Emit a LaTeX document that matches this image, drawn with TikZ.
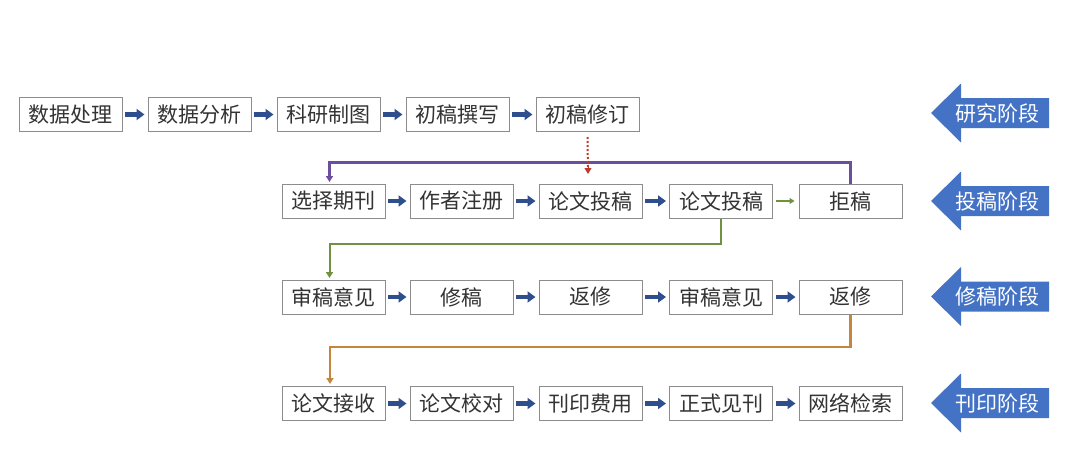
\documentclass[tikz,border=0pt]{standalone}
\usepackage{fontspec}
\newfontfamily\cjk{Noto Sans CJK SC}
\usetikzlibrary{arrows.meta}
\definecolor{boxline}{HTML}{8C8C8C}
\definecolor{txt}{HTML}{333333}
\definecolor{barrow}{HTML}{2F4E8E}
\definecolor{stage}{HTML}{4472C4}
\definecolor{purp}{HTML}{6E4C9E}
\definecolor{grn}{HTML}{6F9140}
\definecolor{orng}{HTML}{C4863C}
\definecolor{redd}{HTML}{C0392B}
\tikzset{
  box/.style={draw=boxline, line width=1pt, fill=white, minimum width=103pt, minimum height=34pt, inner sep=0pt, font=\cjk\fontsize{21}{21}\selectfont, text=txt},
  flowarrow/.style={draw=barrow, line width=4.5pt, -{Triangle[width=11pt,length=8pt]}, shorten <=2.5pt, shorten >=3pt},
  thinarrow/.style={draw=grn, line width=2pt, -{Triangle[width=6pt,length=5pt]}, shorten <=3pt, shorten >=4pt},
  loopline/.style={line width=2.2pt, -{Triangle[width=7pt,length=6pt]}},
  stagebox/.style={fill=stage},
  stagetext/.style={text=white, font=\cjk\fontsize{21}{21}\selectfont, inner sep=0pt}
}
\begin{document}
\begin{tikzpicture}[x=1pt,y=-1pt]
\useasboundingbox (0,0) rectangle (1080,463);
% row 1
\node[box] (a1) at (70.5,114.5) {数据处理};
\node[box] (a2) at (199.5,114.5) {数据分析};
\node[box] (a3) at (328.5,114.5) {科研制图};
\node[box] (a4) at (457.5,114.5) {初稿撰写};
\node[box] (a5) at (587.5,114.5) {初稿修订};
% row 2
\node[box] (b1) at (333.5,201) {选择期刊};
\node[box] (b2) at (461.5,201) {作者注册};
\node[box] (b3) at (590.5,201) {论文投稿};
\node[box] (b4) at (721,201) {论文投稿};
\node[box] (b5) at (850.5,201) {拒稿};
% row 3
\node[box] (c1) at (333.5,297) {审稿意见};
\node[box] (c2) at (461.5,297) {修稿};
\node[box] (c3) at (590.5,297) {返修};
\node[box] (c4) at (721,297) {审稿意见};
\node[box] (c5) at (850.5,297) {返修};
% row 4
\node[box] (d1) at (333.5,403.5) {论文接收};
\node[box] (d2) at (461.5,403.5) {论文校对};
\node[box] (d3) at (590.5,403.5) {刊印费用};
\node[box] (d4) at (721,403.5) {正式见刊};
\node[box] (d5) at (850.5,403.5) {网络检索};
% flow arrows
\foreach \r in {a,c,d}{
  \draw[flowarrow] (\r1) -- (\r2);
  \draw[flowarrow] (\r2) -- (\r3);
  \draw[flowarrow] (\r3) -- (\r4);
  \draw[flowarrow] (\r4) -- (\r5);
}
\draw[flowarrow] (b1) -- (b2);
\draw[flowarrow] (b2) -- (b3);
\draw[flowarrow] (b3) -- (b4);
\draw[thinarrow] (b4) -- (b5);
% loop coordinates
\coordinate (pin) at (329.5,184);
\coordinate (gin) at (329.5,280);
\coordinate (oin) at (330,386);
% purple
\draw[loopline, draw=purp, shorten >=2pt] (b5.north) |- (329.5,162.5) -- (pin);
% green
\draw[loopline, draw=grn, line width=2pt, shorten >=2pt] (b4.south) |- (329.5,244) -- (gin);
% orange
\draw[loopline, draw=orng, line width=2.4pt, shorten >=2pt] (c5.south) |- (330,347) -- (oin);
% red dotted
\coordinate (rend) at (588,184);
\draw[draw=redd, line width=2pt, dash pattern=on 2pt off 2pt, shorten <=5pt, shorten >=16pt] (a5.south) -- (rend);
\draw[draw=redd, line width=1pt, -{Triangle[width=7pt,length=6pt]}, shorten >=10pt] (588,166) -- (rend);
% stage arrows
\foreach \y/\n/\t in {113/s1/研究阶段, 201/s2/投稿阶段, 296.5/s3/修稿阶段, 403/s4/刊印阶段}{
  \fill[stagebox] (931,\y) -- (961,\y-29.5) -- (961,\y-15) -- (1049,\y-15) -- (1049,\y+15) -- (961,\y+15) -- (961,\y+29.5) -- cycle;
  \node[stagetext] (\n) at (997,\y) {\t};
}
\end{tikzpicture}
\end{document}
